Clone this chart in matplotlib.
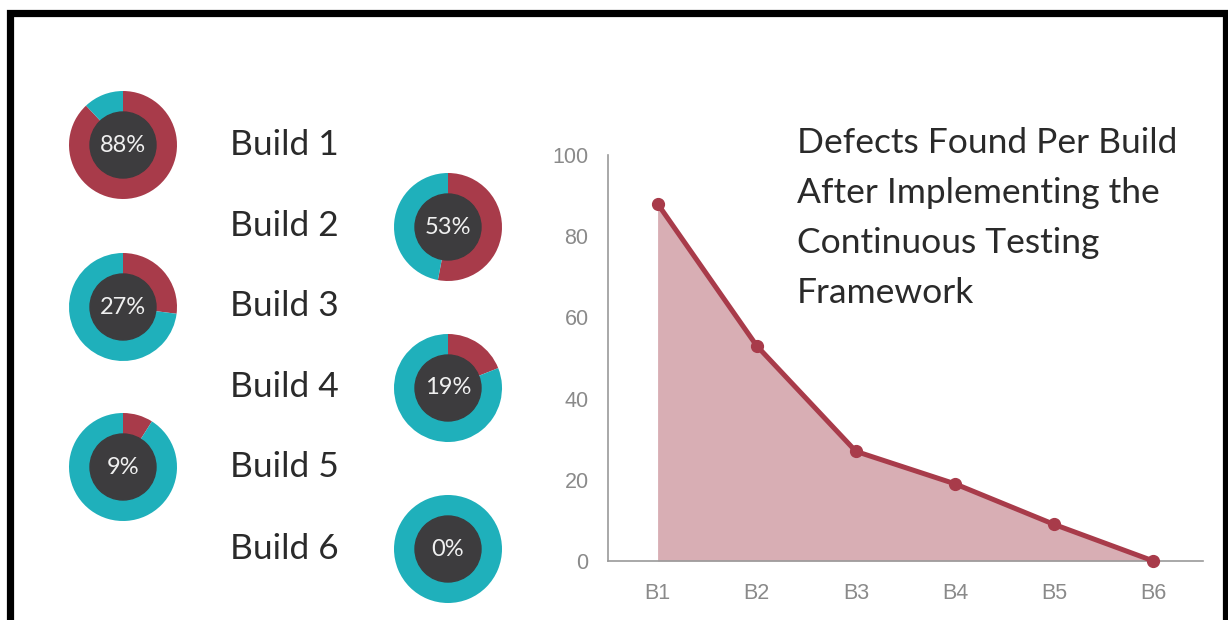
import matplotlib.pyplot as plt
from matplotlib.patches import Circle, Rectangle

# data
builds = ['Build 1', 'Build 2', 'Build 3', 'Build 4', 'Build 5', 'Build 6']
pct = [88, 53, 27, 19, 9, 0]
xlabels = ['B1', 'B2', 'B3', 'B4', 'B5', 'B6']
defects = [88, 53, 27, 19, 9, 0]
yticks = [0, 20, 40, 60, 80, 100]
title_lines = ['Defects Found Per Build', 'After Implementing the',
               'Continuous Testing', 'Framework']

RED = '#a83b4a'
TEAL = '#1fb0bb'
DARK = '#3d3c3e'
FILL = '#d8aeb4'

W, H = 1228, 620
fig = plt.figure(figsize=(W / 100, H / 100), dpi=100)
fig.patch.set_facecolor('white')

# black frame (bottom edge runs off the picture)
fig.patches.append(Rectangle((9.5 / W, -0.1), (1225.5 - 9.5) / W, (H - 12.5) / H + 0.1,
                             transform=fig.transFigure, fill=False,
                             edgecolor='black', linewidth=5.2))

# donuts: left column builds 1,3,5 ; right column builds 2,4,6
centers = [(123, 145), (448, 227), (123, 307), (448, 388), (123, 467), (448, 549)]
R = 54
for (cx, cy), p in zip(centers, pct):
    a = fig.add_axes([(cx - R) / W, (H - cy - R) / H, 2 * R / W, 2 * R / H])
    a.pie([p, 100 - p], colors=[RED, TEAL], startangle=90, counterclock=False,
          radius=1, wedgeprops=dict(width=1, linewidth=0))
    a.add_patch(Circle((0, 0), 33 / 54, color=DARK, zorder=5))
    a.text(0, 0, f'{p}%', ha='center', va='center', color='#f0f0f0',
           fontsize=17, family='Lato', zorder=6)
    a.set_xlim(-1, 1)
    a.set_ylim(-1, 1)
    a.set_aspect('equal')
    a.axis('off')

label_y = [145, 226, 306, 387, 467, 549]
for name, y in zip(builds, label_y):
    fig.text(230 / W, 1 - y / H, name, ha='left', va='center',
             fontsize=25.5, family='Lato', color='#2a2a2a')

for i, line in enumerate(title_lines):
    fig.text(797 / W, 1 - (143 + 50 * i) / H, line, ha='left', va='center',
             fontsize=25.5, family='Lato', color='#2a2a2a')

# line chart
ax = fig.add_axes([608 / W, (H - 561) / H, (1203 - 608) / W, (561 - 155) / H])
x = list(range(len(defects)))
ax.fill_between(x, defects, 0, color=FILL, linewidth=0)
ax.plot(x, defects, color=RED, linewidth=3.6, marker='o', markersize=8.5, zorder=4,
        clip_on=False)
ax.set_xlim(-0.5, len(defects) - 0.5)
ax.set_ylim(0, 100)
ax.set_xticks(x)
ax.set_xticklabels(xlabels)
ax.set_yticks(yticks)
for s in ['top', 'right']:
    ax.spines[s].set_visible(False)
for s in ['left', 'bottom']:
    ax.spines[s].set_color('#9a9a9a')
    ax.spines[s].set_linewidth(1.2)
ax.tick_params(length=0, labelsize=15.5, colors='#8a8a8a')
ax.tick_params(axis='y', pad=14)
ax.tick_params(axis='x', pad=16)
for t in ax.get_xticklabels() + ax.get_yticklabels():
    t.set_family('Liberation Sans')
ax.set_facecolor('none')

fig.savefig('out.png', dpi=100, facecolor='white')
